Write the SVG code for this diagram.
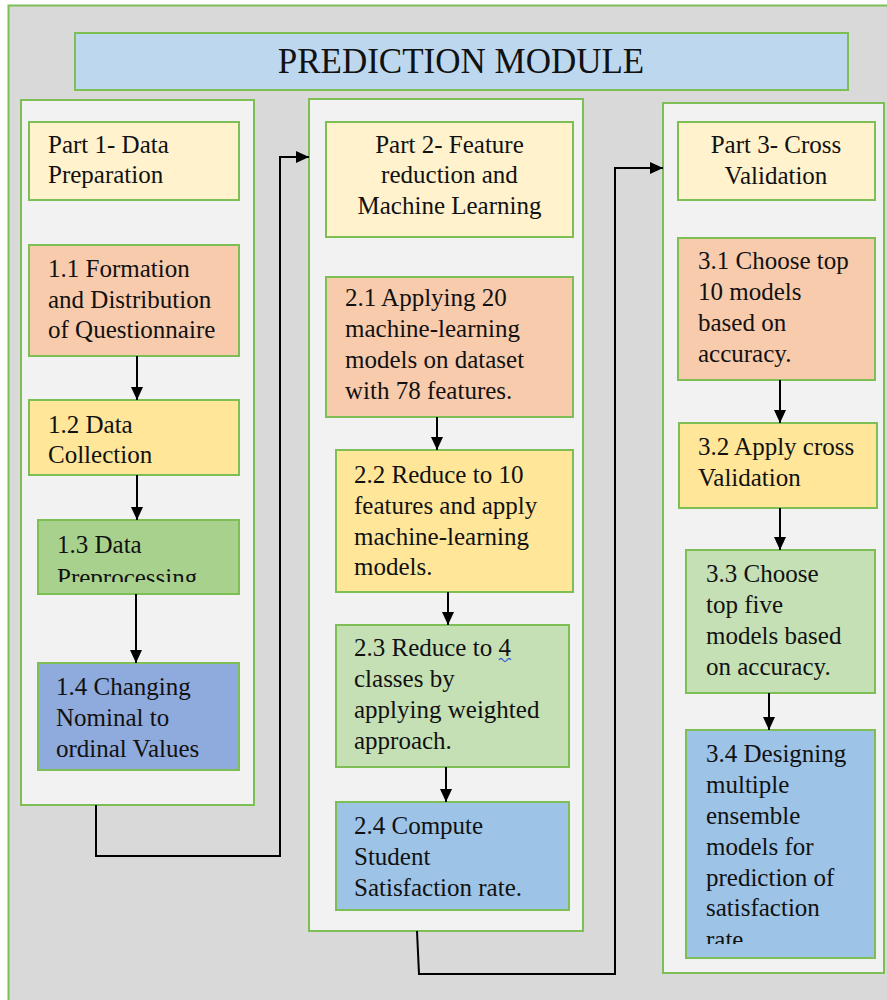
<svg xmlns="http://www.w3.org/2000/svg" width="887" height="1000" viewBox="0 0 887 1000">
  <defs>
    <style>
      .frame { stroke: #7DBE55; stroke-width: 2; }
      .panel { fill: #F2F2F2; }
      .head { fill: #FFF2CC; }
      .peach { fill: #F8CBAD; }
      .gold { fill: #FFE699; }
      .green { fill: #A9D18E; }
      .lgreen { fill: #C5E0B4; }
      .steel { fill: #8FAADC; }
      .sky { fill: #9DC3E6; }
      text { font-family: 'Liberation Serif', 'DejaVu Serif', serif; font-size: 25px; fill: #111; }
      .title { font-size: 35px; }
      .mid { text-anchor: middle; }
      .wire { fill: none; stroke: #000; stroke-width: 2; }
    </style>
    <marker id="arrow" viewBox="0 0 13 12" refX="13" refY="6" markerWidth="13" markerHeight="12" markerUnits="userSpaceOnUse" orient="auto">
      <path d="M0,0 L13,6 L0,12 z" fill="#000"/>
    </marker>
    <clipPath id="clip13"><rect x="38" y="520" width="201" height="62"/></clipPath>
    <clipPath id="clip34"><rect x="686" y="730" width="189" height="214"/></clipPath>
  </defs>

  <!-- outer canvas -->
  <rect x="8.5" y="5.5" width="900" height="1010" fill="#D9D9D9" class="frame"/>

  <!-- title banner -->
  <g id="title">
    <rect x="75" y="33" width="773" height="57" fill="#BDD7EE" class="frame"/>
    <text class="title mid" x="461" y="73">PREDICTION MODULE</text>
  </g>

  <!-- column panels -->
  <g id="panel1"><rect x="21" y="100" width="233" height="705" class="panel frame"/></g>
  <g id="panel2"><rect x="309" y="99" width="274" height="832" class="panel frame"/></g>
  <g id="panel3"><rect x="663" y="103" width="221" height="870" class="panel frame"/></g>

  <!-- Part 1 -->
  <g id="part1">
    <rect x="29" y="122" width="210" height="78" class="head frame"/>
    <text x="48" y="153">Part 1- Data</text>
    <text x="48" y="183">Preparation</text>
  </g>
  <g id="step1-1">
    <rect x="29" y="245" width="210" height="111" class="peach frame"/>
    <text x="48" y="277">1.1 Formation</text>
    <text x="48" y="308">and Distribution</text>
    <text x="48" y="338">of Questionnaire</text>
  </g>
  <g id="step1-2">
    <rect x="29" y="400" width="210" height="75" class="gold frame"/>
    <text x="48" y="433">1.2 Data</text>
    <text x="48" y="463">Collection</text>
  </g>
  <g id="step1-3">
    <rect x="38" y="520" width="201" height="74" class="green frame"/>
    <g clip-path="url(#clip13)">
      <text x="57" y="553">1.3 Data</text>
      <text x="57" y="586">Preprocessing</text>
    </g>
  </g>
  <g id="step1-4">
    <rect x="38" y="663" width="201" height="107" class="steel frame"/>
    <text x="56" y="695">1.4 Changing</text>
    <text x="56" y="726">Nominal to</text>
    <text x="56" y="757">ordinal Values</text>
  </g>

  <!-- Part 2 -->
  <g id="part2">
    <rect x="326" y="122" width="247" height="115" class="head frame"/>
    <text class="mid" x="449.5" y="153">Part 2- Feature</text>
    <text class="mid" x="449.5" y="183">reduction and</text>
    <text class="mid" x="449.5" y="214">Machine Learning</text>
  </g>
  <g id="step2-1">
    <rect x="326" y="277" width="247" height="140" class="peach frame"/>
    <text x="345" y="306">2.1 Applying 20</text>
    <text x="345" y="337">machine-learning</text>
    <text x="345" y="368">models on dataset</text>
    <text x="345" y="399">with 78 features.</text>
  </g>
  <g id="step2-2">
    <rect x="336" y="450" width="237" height="142" class="gold frame"/>
    <text x="354" y="483">2.2 Reduce to 10</text>
    <text x="354" y="514">features and apply</text>
    <text x="354" y="545">machine-learning</text>
    <text x="354" y="575">models.</text>
  </g>
  <g id="step2-3">
    <rect x="336" y="625" width="233" height="142" class="lgreen frame"/>
    <text x="354" y="656">2.3 Reduce to 4</text>
    <path d="M499,660 q2,-3 4,0 t4,0 t4,0" fill="none" stroke="#3B5FD9" stroke-width="1.3"/>
    <text x="354" y="687">classes by</text>
    <text x="354" y="718">applying weighted</text>
    <text x="354" y="749">approach.</text>
  </g>
  <g id="step2-4">
    <rect x="336" y="802" width="233" height="108" class="sky frame"/>
    <text x="354" y="834">2.4 Compute</text>
    <text x="354" y="865">Student</text>
    <text x="354" y="896">Satisfaction rate.</text>
  </g>

  <!-- Part 3 -->
  <g id="part3">
    <rect x="678" y="122" width="197" height="78" class="head frame"/>
    <text class="mid" x="776" y="153">Part 3- Cross</text>
    <text class="mid" x="776" y="184">Validation</text>
  </g>
  <g id="step3-1">
    <rect x="678" y="238" width="197" height="142" class="peach frame"/>
    <text x="698" y="269">3.1 Choose top</text>
    <text x="698" y="300">10 models</text>
    <text x="698" y="331">based on</text>
    <text x="698" y="362">accuracy.</text>
  </g>
  <g id="step3-2">
    <rect x="679" y="423" width="198" height="85" class="gold frame"/>
    <text x="698" y="455">3.2 Apply cross</text>
    <text x="698" y="486">Validation</text>
  </g>
  <g id="step3-3">
    <rect x="686" y="550" width="189" height="143" class="lgreen frame"/>
    <text x="706" y="582">3.3 Choose</text>
    <text x="706" y="613">top five</text>
    <text x="706" y="644">models based</text>
    <text x="706" y="675">on accuracy.</text>
  </g>
  <g id="step3-4">
    <rect x="686" y="730" width="189" height="228" class="sky frame"/>
    <g clip-path="url(#clip34)">
      <text x="706" y="762">3.4 Designing</text>
      <text x="706" y="793">multiple</text>
      <text x="706" y="824">ensemble</text>
      <text x="706" y="855">models for</text>
      <text x="706" y="886">prediction of</text>
      <text x="706" y="916">satisfaction</text>
      <text x="706" y="948">rate.</text>
    </g>
  </g>

  <!-- connectors -->
  <g id="connectors" class="wire" marker-end="url(#arrow)">
    <path d="M137,356 V400"/>
    <path d="M137,475 V520"/>
    <path d="M136,594 V663"/>
    <path d="M437,417 V450"/>
    <path d="M448,592 V625"/>
    <path d="M446,767 V802"/>
    <path d="M780,380 V423"/>
    <path d="M780,508 V550"/>
    <path d="M769,693 V730"/>
    <path d="M96,805 V856 H280 V157 H309"/>
    <path d="M417,931 L419,974 H615 V168 H663"/>
  </g>
</svg>
